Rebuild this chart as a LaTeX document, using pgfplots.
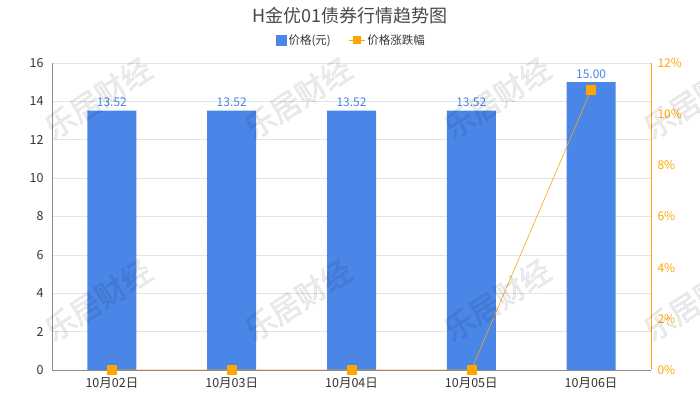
\documentclass[border=0pt]{standalone}
\usepackage{pgfplots}
\pgfplotsset{compat=1.18}
\usepackage{fontspec}
\setmainfont{Noto Sans CJK SC}
\newfontfamily\wmfont[FakeBold=2]{Noto Sans CJK SC}
\definecolor{barblue}{HTML}{4A86E8}
\definecolor{lineorange}{HTML}{FFA500}
\definecolor{txtgray}{HTML}{333333}
\definecolor{gridgray}{HTML}{E3E3E3}
\begin{document}
\begin{tikzpicture}[x=1pt,y=1pt]
\path[use as bounding box] (0,0) rectangle (700,400);
\node[text=txtgray!90,font=\fontsize{18}{20}\selectfont] at (350,384) {H金优01债券行情趋势图};
\begin{axis}[
  at={(52pt,30pt)}, anchor=south west,
  scale only axis, width=599pt, height=307pt,
  xmin=-0.5, xmax=4.5, ymin=0, ymax=16,
  xtick={0,1,2,3,4},
  xticklabels={10月02日,10月03日,10月04日,10月05日,10月06日},
  ytick={0,2,...,16},
  ymajorgrids, grid style={gridgray, line width=0.6pt},
  axis x line*=bottom, axis y line*=left,
  axis line style={draw=gray!90, line width=0.6pt},
  x axis line style={-}, y axis line style={-},
  major tick length=0pt,
  tick label style={font=\fontsize{12.5}{14}\selectfont, text=txtgray},
  /pgf/number format/assume math mode=true,
  xticklabel style={yshift=-4pt},
  yticklabel style={xshift=-5pt},
  ybar, bar width=49pt,
  nodes near coords,
  nodes near coords style={font=\fontsize{12}{14}\selectfont, text=barblue, /pgf/number format/.cd, fixed, fixed zerofill, precision=2, assume math mode=true},
  clip=false,
]
\addplot[fill=barblue, draw=none, bar shift=0pt] coordinates {(0,13.52) (1,13.52) (2,13.52) (3,13.52) (4,15.00)};
\end{axis}
\begin{axis}[
  at={(52pt,30pt)}, anchor=south west,
  scale only axis, width=599pt, height=307pt,
  xmin=-0.5, xmax=4.5, ymin=0, ymax=12,
  axis x line*=bottom, axis y line*=right,
  xtick=\empty,
  x axis line style={draw=gray!90, line width=0.6pt, -},
  y axis line style={draw=lineorange, line width=0.6pt, -},
  axis on top,
  ytick={0,2,...,12},
  yticklabels={0\%,2\%,4\%,6\%,8\%,10\%,12\%},
  major tick length=0pt,
  tick label style={font=\fontsize{12}{14}\selectfont, text=lineorange},
  yticklabel style={xshift=3pt},
  clip=false,
  legend style={at={(0.5,1.0)}, anchor=south, yshift=13pt, draw=none, fill=none,
    font=\fontsize{11.5}{13}\selectfont, text=txtgray,
    /tikz/every even column/.append style={column sep=16pt}},
  legend columns=2,
  legend cell align=left,
]
\addlegendimage{legend image code/.code={\fill[barblue] (4pt,-5pt) rectangle (14pt,5pt);}}
\addlegendentry{价格(元)}
\addplot[color=lineorange, line width=0.6pt, mark=square*, mark size=4.5pt, mark options={fill=lineorange, draw=lineorange},
  legend image code/.code={\draw[lineorange, line width=0.6pt] (0pt,0pt) -- (16pt,0pt); \fill[lineorange] (4.5pt,-3.5pt) rectangle (11.5pt,3.5pt);}]
  coordinates {(0,0) (1,0) (2,0) (3,0) (4,10.95)};
\addlegendentry{价格涨跌幅}
\end{axis}
\begin{scope}
\clip (0,0) rectangle (700,400);
\foreach \wx in {98,298,497,697}{
  \foreach \wy in {302,100}{
    \node[rotate=33, text=black, opacity=0.07, font=\wmfont\fontsize{30}{32}\selectfont, inner sep=0pt] at (\wx,\wy) {乐居财经};
  }
}
\end{scope}
\end{tikzpicture}
\end{document}
